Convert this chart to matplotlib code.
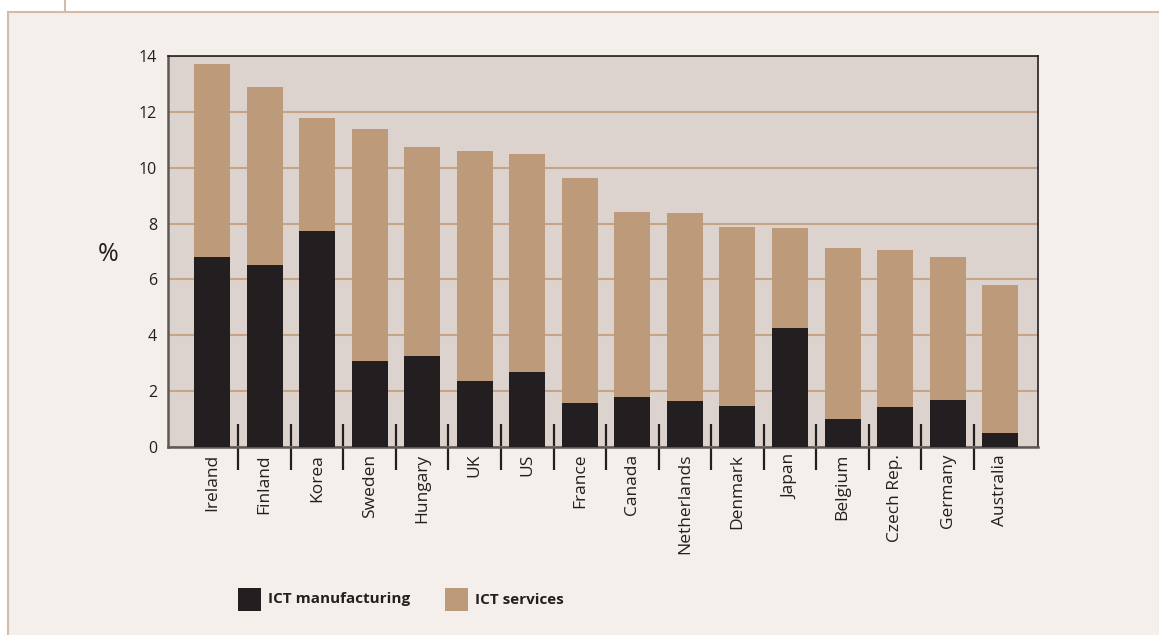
import numpy as np
import matplotlib.pyplot as plt
from matplotlib.patches import Rectangle
from matplotlib.lines import Line2D

countries = ["Ireland", "Finland", "Korea", "Sweden", "Hungary", "UK", "US", "France",
             "Canada", "Netherlands", "Denmark", "Japan", "Belgium", "Czech Rep.",
             "Germany", "Australia"]
ict_manufacturing = [6.80, 6.52, 7.73, 3.08, 3.26, 2.36, 2.69, 1.58,
                     1.79, 1.65, 1.47, 4.26, 1.00, 1.43, 1.68, 0.50]
ict_services = [6.91, 6.37, 4.05, 8.31, 7.48, 8.24, 7.80, 8.05,
                6.62, 6.73, 6.41, 3.58, 6.12, 5.62, 5.12, 5.30]
yticks = [0, 2, 4, 6, 8, 10, 12, 14]

dark = "#231f20"
tan = "#bd9a79"
panel_bg = "#f4efeb"
axes_bg = "#ddd3ce"
grid_col = "#c6a586"
frame_col = "#d2bba8"

plt.rcParams["font.family"] = ["Open Sans", "DejaVu Sans"]

fig = plt.figure(figsize=(11.59, 6.35), dpi=100)
fig.patch.set_facecolor("white")

# background panel with tan frame
W, H = 1159, 635
fig.patches.append(Rectangle((8 / W, -0.01), 1.2, (H - 12) / H + 0.01, transform=fig.transFigure,
                             facecolor=panel_bg, edgecolor=frame_col, linewidth=1.5, zorder=-5))
fig.lines.append(Line2D([65 / W, 65 / W], [(H - 12) / H, 1], transform=fig.transFigure,
                        color=frame_col, linewidth=1.5, zorder=-5))

ax = fig.add_axes([168 / W, 1 - 447 / H, (1038 - 168) / W, (447 - 56) / H])
ax.set_zorder(2)
ax.set_facecolor(axes_bg)

x = np.arange(len(countries))
ax.bar(x, ict_manufacturing, width=0.685, color=dark, zorder=3)
ax.bar(x, ict_services, bottom=ict_manufacturing, width=0.685, color=tan, zorder=3)

ax.set_xlim(-0.838, 15.72)
ax.set_ylim(0, 14)
ax.set_yticks(yticks)
ax.yaxis.grid(True, color=grid_col, linewidth=1.5, zorder=1)
ax.set_axisbelow(True)
ax.tick_params(axis="y", length=0, pad=8, labelsize=11.5, labelcolor=dark)

ax.set_xticks(x)
ax.set_xticklabels(countries, rotation=90, fontsize=12.5, color=dark)
ax.tick_params(axis="x", which="major", length=0, pad=5)
ax.set_xticks(x[:-1] + 0.5, minor=True)
ax.tick_params(axis="x", which="minor", direction="inout", length=33, width=1.6, color=dark)

for s in ["top", "right"]:
    ax.spines[s].set_color(dark)
    ax.spines[s].set_linewidth(1.2)
for s in ["left", "bottom"]:
    ax.spines[s].set_color("#5c5858")
    ax.spines[s].set_linewidth(1.8)

fig.text(108 / W, 1 - 255 / H, "%", fontsize=18, color=dark, ha="center", va="center")

# legend
for lx, col, label in [(238, dark, "ICT manufacturing"), (445, tan, "ICT services")]:
    fig.patches.append(Rectangle((lx / W, 1 - 611 / H), 23 / W, 23 / H,
                                 transform=fig.transFigure, facecolor=col, edgecolor="none"))
    fig.text((lx + 30) / W, 1 - 599.5 / H, label, fontsize=11, fontweight="bold",
             color=dark, va="center", ha="left")

fig.savefig("out.png", dpi=100, facecolor=fig.get_facecolor())
